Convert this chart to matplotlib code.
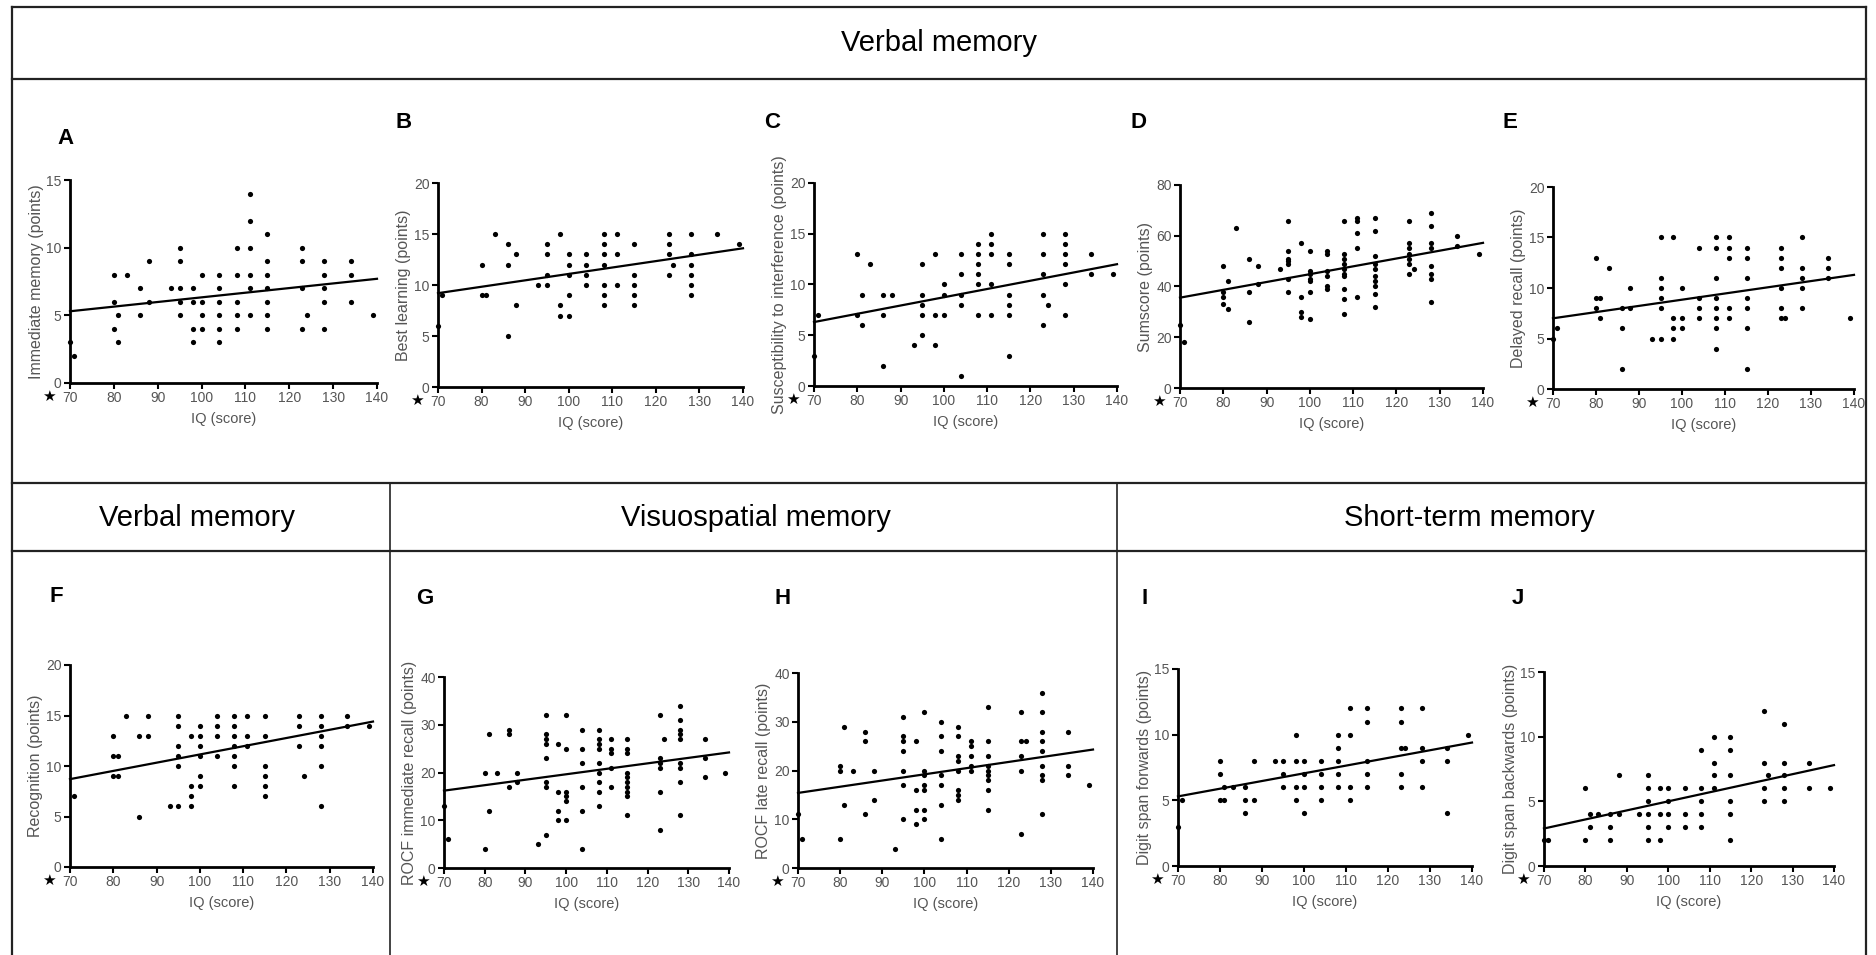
import matplotlib
matplotlib.use("Agg")
import matplotlib.pyplot as plt
from matplotlib.lines import Line2D

plt.rcParams['font.family'] = ['Liberation Sans', 'DejaVu Sans']

# IQ score -> test scores of all subjects with that IQ
pts_a = {70: [3], 71: [2], 80: [8, 6, 4], 81: [5, 3], 83: [8], 86: [7, 5], 88: [9, 6], 93: [7],
         95: [10, 9, 7, 6, 5], 98: [7, 6, 4, 3], 100: [8, 6, 5, 4], 104: [8, 7, 6, 5, 4, 3],
         108: [10, 8, 6, 5, 4], 111: [14, 12, 10, 8, 7, 5], 115: [11, 9, 8, 7, 6, 5, 4],
         123: [10, 9, 7, 4], 124: [5], 128: [9, 8, 7, 6, 4], 134: [9, 8, 6], 139: [5]}
pts_b = {70: [6], 71: [9], 80: [12, 9], 81: [9], 83: [15], 86: [14, 12, 5], 88: [13, 8], 93: [10],
         95: [14, 13, 11, 10], 98: [15, 8, 7], 100: [13, 12, 11, 9, 7], 104: [13, 12, 11, 10],
         108: [15, 14, 13, 12, 10, 9, 8], 111: [15, 13, 10], 115: [14, 11, 10, 9, 8],
         123: [15, 14, 13, 11], 124: [12], 128: [15, 13, 12, 11, 10, 9], 134: [15], 139: [14]}
pts_c = {70: [3], 71: [7], 80: [13, 7], 81: [9, 6], 83: [12], 86: [9, 7, 2], 88: [9], 93: [4],
         95: [12, 9, 8, 7, 5], 98: [13, 7, 4], 100: [10, 9, 7], 104: [13, 11, 9, 8, 1],
         108: [14, 13, 12, 11, 10, 7], 111: [15, 14, 13, 10, 7], 115: [13, 12, 9, 8, 7, 3],
         123: [15, 13, 11, 9, 6], 124: [8], 128: [15, 14, 13, 12, 10, 7], 134: [13, 11], 139: [11]}
pts_d = {70: [25], 71: [18], 80: [48, 38, 36, 33], 81: [42, 31], 83: [63], 86: [51, 38, 26],
         88: [48, 41], 93: [47], 95: [66, 54, 51, 50, 49, 43, 38], 98: [57, 36, 30, 28],
         100: [54, 46, 45, 43, 42, 38, 27], 104: [54, 53, 46, 44, 40, 39],
         108: [66, 53, 51, 49, 47, 45, 44, 39, 35, 29], 111: [67, 66, 61, 55, 36],
         115: [67, 62, 52, 49, 47, 44, 42, 40, 37, 32], 123: [66, 57, 55, 53, 51, 49, 45],
         124: [47], 128: [69, 64, 57, 55, 48, 45, 43, 34], 134: [60, 56], 139: [53]}
pts_e = {70: [5], 71: [6], 80: [13, 9, 8], 81: [9, 7], 83: [12], 86: [8, 6, 2], 88: [10, 8], 93: [5],
         95: [15, 11, 10, 9, 8, 5], 98: [15, 7, 6, 5], 100: [10, 7, 6], 104: [14, 9, 8, 7],
         108: [15, 14, 11, 9, 8, 7, 6, 4], 111: [15, 14, 13, 8, 7], 115: [14, 13, 11, 9, 8, 6, 2],
         123: [14, 13, 12, 10, 8, 7], 124: [7], 128: [15, 12, 11, 10, 8], 134: [13, 12, 11], 139: [7]}
pts_f = {71: [7], 80: [13, 11, 9], 81: [11, 9], 83: [15], 86: [13, 5], 88: [15, 13], 93: [6],
         95: [15, 14, 12, 11, 10, 6], 98: [13, 8, 7, 6], 100: [14, 13, 12, 11, 9, 8],
         104: [15, 14, 13, 11], 108: [15, 14, 13, 12, 11, 10, 8], 111: [15, 13, 12],
         115: [15, 13, 10, 9, 8, 7], 123: [15, 14, 12], 124: [9], 128: [15, 14, 13, 12, 10, 6],
         134: [15, 14], 139: [14]}
pts_g = {70: [13], 71: [6], 80: [20, 4], 81: [28, 12], 83: [20], 86: [29, 28, 17], 88: [20, 18],
         93: [5], 95: [32, 28, 27, 26, 23, 18, 17, 7], 98: [26, 16, 12, 10],
         100: [32, 25, 16, 15, 14, 10], 104: [29, 25, 22, 17, 12, 4],
         108: [29, 27, 26, 25, 22, 20, 18, 16, 13], 111: [27, 25, 24, 21, 17],
         115: [27, 25, 24, 20, 19, 18, 17, 16, 15, 11], 123: [32, 23, 22, 21, 16, 8], 124: [27],
         128: [34, 31, 29, 28, 27, 22, 21, 18, 11], 134: [27, 23, 19], 139: [20]}
pts_h = {70: [11], 71: [6], 80: [21, 20, 6], 81: [29, 13], 83: [20], 86: [28, 26, 11], 88: [20, 14],
         93: [4], 95: [31, 27, 26, 24, 20, 17, 10], 98: [26, 16, 12, 9],
         100: [32, 20, 19, 17, 16, 12, 10], 104: [30, 27, 24, 19, 17, 13, 6],
         108: [29, 27, 23, 22, 20, 16, 15, 14], 111: [26, 25, 23, 21, 20],
         115: [33, 26, 23, 21, 20, 19, 18, 16, 12], 123: [32, 26, 23, 20, 7], 124: [26],
         128: [36, 32, 28, 26, 24, 21, 19, 18, 11], 134: [28, 21, 19], 139: [17]}
pts_i = {70: [3], 71: [5], 80: [8, 7, 5], 81: [6, 5], 83: [6], 86: [6, 5, 4], 88: [8, 5], 93: [8],
         95: [8, 7, 6], 98: [10, 8, 6, 5], 100: [8, 7, 6, 4], 104: [8, 7, 6, 5],
         108: [10, 9, 8, 7, 6], 111: [12, 10, 6, 5], 115: [12, 11, 8, 7, 6],
         123: [12, 11, 9, 7, 6], 124: [9], 128: [12, 9, 8, 6], 134: [9, 8, 4], 139: [10]}
pts_j = {70: [2], 71: [2], 80: [6, 2], 81: [4, 3], 83: [4], 86: [4, 3, 2], 88: [7, 4], 93: [4],
         95: [7, 6, 5, 4, 3, 2], 98: [6, 4, 2], 100: [6, 5, 4, 3], 104: [6, 4, 3],
         108: [9, 6, 5, 4, 3], 111: [10, 8, 7, 6], 115: [10, 9, 7, 5, 4, 2],
         123: [12, 8, 6, 5], 124: [7], 128: [11, 8, 7, 6, 5], 134: [8, 6], 139: [6]}

# regression line value at IQ 70 and IQ 140
fit_x = [70, 140]
fit_a = [5.3, 7.7]
fit_b = [9.2, 13.6]
fit_c = [6.3, 12.0]
fit_d = [35.6, 57.2]
fit_e = [7.0, 11.3]
fit_f = [8.7, 14.4]
fit_g = [16.2, 24.2]
fit_h = [15.4, 24.3]
fit_i = [5.3, 9.4]
fit_j = [2.9, 7.8]

ylabels = ["Immediate memory (points)", "Best learning (points)",
           "Susceptibility to interference (points)", "Sumscore (points)",
           "Delayed recall (points)", "Recognition (points)",
           "ROCF immediate recall (points)", "ROCF late recall (points)",
           "Digit span forwards (points)", "Digit span backwards (points)"]
ymaxes = [15, 20, 20, 80, 20, 20, 40, 40, 15, 15]
ysteps = [5, 5, 5, 20, 5, 5, 10, 10, 5, 5]
letters = list("ABCDEFGHIJ")
iq_ticks = [70, 80, 90, 100, 110, 120, 130, 140]

W, H = 1876, 955
# axes box in pixels: left, right, top, bottom ; panel letter position
boxes = [(70, 377, 180, 383), (438, 743, 183, 387), (814, 1117, 183, 386),
         (1180, 1483, 185, 388), (1553, 1854, 187, 389),
         (70, 373, 665, 867), (444, 729, 677, 868), (798, 1093, 673, 868),
         (1178, 1472, 669, 866), (1544, 1834, 672, 866)]
letter_pos = [(66, 138), (404, 123), (772, 123), (1139, 123), (1510, 123),
              (56, 597), (425, 598), (783, 598), (1145, 598), (1518, 598)]

all_pts = [pts_a, pts_b, pts_c, pts_d, pts_e, pts_f, pts_g, pts_h, pts_i, pts_j]
all_fit = [fit_a, fit_b, fit_c, fit_d, fit_e, fit_f, fit_g, fit_h, fit_i, fit_j]

fig = plt.figure(figsize=(W / 100, H / 100), dpi=100)
gray = '#555555'

for k in range(10):
    l, r, t, b = boxes[k]
    ax = fig.add_axes([l / W, 1 - b / H, (r - l) / W, (b - t) / H])
    pts = all_pts[k]
    xs = [iq for iq, vals in pts.items() for v in vals]
    ys = [v for iq, vals in pts.items() for v in vals]
    ax.scatter(xs, ys, s=14, color='black', linewidths=0, clip_on=False, zorder=3)
    ax.plot(fit_x, all_fit[k], color='black', lw=1.6, clip_on=False, zorder=2)
    ax.set_xlim(70, 140)
    ax.set_ylim(0, ymaxes[k])
    ax.set_xticks(iq_ticks)
    ax.set_yticks(range(0, ymaxes[k] + 1, ysteps[k]))
    for s in ['top', 'right']:
        ax.spines[s].set_visible(False)
    for s in ['left', 'bottom']:
        ax.spines[s].set_linewidth(2.0)
    ax.tick_params(direction='out', length=4, width=1.5, pad=2, labelsize=10, labelcolor=gray)
    ax.set_xlabel("IQ (score)", fontsize=10.5, color=gray, labelpad=5)
    ax.set_ylabel(ylabels[k], fontsize=11.5, color=gray, labelpad=2)
    ax.annotate('★', xy=(0, 0), xycoords='axes fraction', xytext=(-15, -10),
                textcoords='offset points', ha='center', va='center', fontsize=11,
                family='DejaVu Sans')
    lx, ly = letter_pos[k]
    fig.text(lx / W, 1 - ly / H, letters[k], fontsize=16, fontweight='bold',
             ha='center', va='center')


def hline(y, x0=12, x1=1866, lw=1.6):
    fig.add_artist(Line2D([x0 / W, x1 / W], [1 - y / H, 1 - y / H],
                          transform=fig.transFigure, color='#222222', lw=lw))


def vline(x, y0, y1=H, lw=1.2):
    fig.add_artist(Line2D([x / W, x / W], [1 - y0 / H, 1 - y1 / H],
                          transform=fig.transFigure, color='#222222', lw=lw))


hline(7)
hline(79)
hline(483)
hline(551)
vline(12, 7, lw=1.6)
vline(1866, 7, lw=1.6)
vline(390, 483)
vline(1117, 483)

hdr = dict(fontsize=21, ha='center', va='center')
fig.text(939 / W, 1 - 43 / H, "Verbal memory", **hdr)
fig.text(197 / W, 1 - 518 / H, "Verbal memory", **hdr)
fig.text(756 / W, 1 - 518 / H, "Visuospatial memory", **hdr)
fig.text(1469 / W, 1 - 518 / H, "Short-term memory", **hdr)

fig.savefig("out.png", dpi=100, facecolor='white')
